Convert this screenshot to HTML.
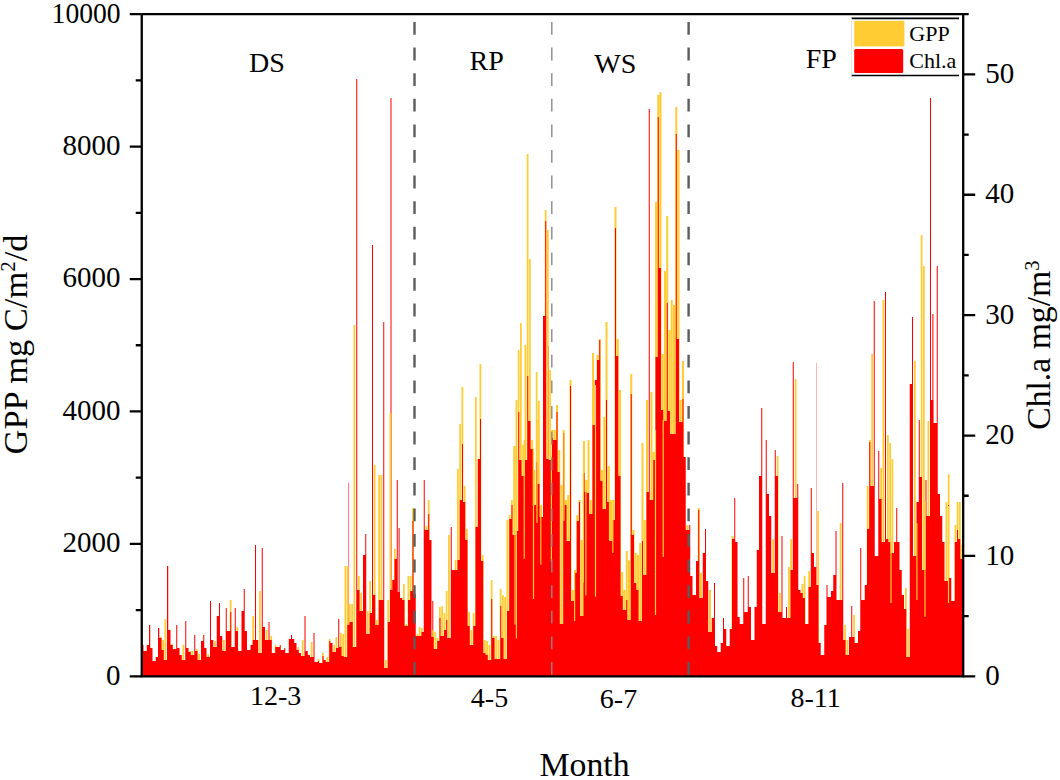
<!DOCTYPE html>
<html><head><meta charset="utf-8"><style>
html,body{margin:0;padding:0;background:#fff;width:1060px;height:780px;overflow:hidden}
svg{display:block}
text{font-family:"Liberation Serif",serif;fill:#000}
.t{font-size:28px}
.tk{font-size:29px}
.a{font-size:33px}
.l{font-size:22px}
</style></head><body>
<svg width="1060" height="780" viewBox="0 0 1060 780">
<rect x="816.0" y="362.8" width="1" height="313.5" fill="#ffb4b4"/>
<rect x="348.1" y="482.8" width="1" height="193.5" fill="#ff7878"/>
<rect x="932.4" y="314" width="1" height="362.3" fill="#ff0000"/>
<rect x="390.5" y="98" width="1" height="578.3" fill="#ff0000"/>
<rect x="381.0" y="503" width="1" height="173.3" fill="#ff0000"/>
<rect x="398.6" y="528" width="1" height="148.3" fill="#ff0000"/>
<rect x="547.8" y="346" width="1" height="330.3" fill="#ff0000"/>
<rect x="432.3" y="601" width="1" height="75.3" fill="#ff0000"/>
<path fill="#FFCC33" d="M160.00 637.0H161.75V676.3H160.00ZM161.75 650.0H162.25V676.3H161.75ZM162.25 640.0H164.00V676.3H162.25ZM164.00 660.0H164.50V676.3H164.00ZM164.50 619.0H166.25V676.3H164.50ZM171.25 644.0H173.00V676.3H171.25ZM182.50 645.0H184.25V676.3H182.50ZM189.25 651.0H191.00V676.3H189.25ZM191.00 655.0H191.50V676.3H191.00ZM191.50 651.0H193.25V676.3H191.50ZM196.00 649.0H197.75V676.3H196.00ZM197.75 660.0H198.25V676.3H197.75ZM198.25 654.0H200.00V676.3H198.25ZM207.25 654.0H209.00V676.3H207.25ZM214.00 641.0H215.75V676.3H214.00ZM223.00 640.0H224.75V676.3H223.00ZM229.75 600.0H231.50V676.3H229.75ZM236.50 627.0H238.25V676.3H236.50ZM252.25 616.0H254.00V676.3H252.25ZM259.00 591.0H260.75V676.3H259.00ZM265.75 630.0H267.50V676.3H265.75ZM270.25 636.0H272.00V676.3H270.25ZM274.75 645.0H276.50V676.3H274.75ZM297.25 647.0H299.00V676.3H297.25ZM301.75 640.0H303.50V676.3H301.75ZM310.75 642.0H312.50V676.3H310.75ZM317.50 659.0H319.25V676.3H317.50ZM322.00 653.0H323.75V676.3H322.00ZM326.50 657.0H328.25V676.3H326.50ZM328.25 662.0H328.75V676.3H328.25ZM328.75 639.0H330.50V676.3H328.75ZM333.25 645.0H335.00V676.3H333.25ZM335.00 652.0H335.50V676.3H335.00ZM335.50 637.0H337.25V676.3H335.50ZM340.00 633.0H341.75V676.3H340.00ZM341.75 656.0H342.25V676.3H341.75ZM342.25 634.0H344.00V676.3H342.25ZM344.00 657.0H344.50V676.3H344.00ZM344.50 566.0H346.25V676.3H344.50ZM346.25 657.0H346.75V676.3H346.25ZM346.75 566.0H348.50V676.3H346.75ZM348.50 625.0H349.00V676.3H348.50ZM349.00 604.0H350.75V676.3H349.00ZM350.75 622.0H351.25V676.3H350.75ZM351.25 604.0H353.00V676.3H351.25ZM353.00 647.0H353.50V676.3H353.00ZM353.50 325.0H355.25V676.3H353.50ZM358.00 576.0H359.75V676.3H358.00ZM359.75 611.0H360.25V676.3H359.75ZM360.25 593.0H362.00V676.3H360.25ZM367.00 611.0H368.75V676.3H367.00ZM368.75 634.0H369.25V676.3H368.75ZM369.25 581.0H371.00V676.3H369.25ZM373.75 465.0H375.50V676.3H373.75ZM375.50 625.0H376.00V676.3H375.50ZM376.00 620.0H377.75V676.3H376.00ZM377.75 625.0H378.25V676.3H377.75ZM378.25 475.0H380.00V676.3H378.25ZM380.00 600.0H380.50V676.3H380.00ZM380.50 475.0H382.25V676.3H380.50ZM385.00 660.0H386.75V676.3H385.00ZM386.75 668.0H387.25V676.3H386.75ZM387.25 600.0H389.00V676.3H387.25ZM389.00 622.0H389.50V676.3H389.00ZM389.50 413.0H391.25V676.3H389.50ZM394.00 549.0H395.75V676.3H394.00ZM403.00 584.0H404.75V676.3H403.00ZM404.75 626.0H405.25V676.3H404.75ZM405.25 624.0H407.00V676.3H405.25ZM407.00 626.0H407.50V676.3H407.00ZM407.50 576.0H409.25V676.3H407.50ZM409.25 600.0H409.75V676.3H409.25ZM409.75 576.0H411.50V676.3H409.75ZM411.50 591.0H412.00V676.3H411.50ZM412.00 508.0H413.75V676.3H412.00ZM416.50 634.0H418.25V676.3H416.50ZM418.25 636.0H418.75V676.3H418.25ZM418.75 627.0H420.50V676.3H418.75ZM420.50 636.0H421.00V676.3H420.50ZM421.00 628.0H422.75V676.3H421.00ZM425.50 526.0H427.25V676.3H425.50ZM427.25 530.0H427.75V676.3H427.25ZM427.75 500.0H429.50V676.3H427.75ZM432.25 630.0H434.00V676.3H432.25ZM434.00 649.0H434.50V676.3H434.00ZM434.50 632.0H436.25V676.3H434.50ZM436.25 649.0H436.75V676.3H436.25ZM436.75 638.0H438.50V676.3H436.75ZM438.50 641.0H439.00V676.3H438.50ZM439.00 607.0H440.75V676.3H439.00ZM440.75 636.0H441.25V676.3H440.75ZM441.25 606.0H443.00V676.3H441.25ZM443.00 636.0H443.50V676.3H443.00ZM443.50 613.0H445.25V676.3H443.50ZM445.25 630.0H445.75V676.3H445.25ZM445.75 591.0H447.50V676.3H445.75ZM447.50 638.0H448.00V676.3H447.50ZM448.00 535.0H449.75V676.3H448.00ZM454.75 560.0H456.50V676.3H454.75ZM456.50 570.0H457.00V676.3H456.50ZM457.00 469.0H458.75V676.3H457.00ZM458.75 560.0H459.25V676.3H458.75ZM459.25 424.0H461.00V676.3H459.25ZM461.00 500.0H461.50V676.3H461.00ZM461.50 387.0H463.25V676.3H461.50ZM463.25 502.0H463.75V676.3H463.25ZM463.75 486.0H465.50V676.3H463.75ZM465.50 540.0H466.00V676.3H465.50ZM466.00 529.0H467.75V676.3H466.00ZM467.75 626.0H468.25V676.3H467.75ZM468.25 612.0H470.00V676.3H468.25ZM470.00 645.0H470.50V676.3H470.00ZM470.50 630.0H472.25V676.3H470.50ZM472.25 645.0H472.75V676.3H472.25ZM472.75 613.0H474.50V676.3H472.75ZM474.50 626.0H475.00V676.3H474.50ZM475.00 397.0H476.75V676.3H475.00ZM479.50 364.0H481.25V676.3H479.50ZM481.25 561.0H481.75V676.3H481.25ZM481.75 555.0H483.50V676.3H481.75ZM483.50 653.0H484.00V676.3H483.50ZM484.00 640.0H485.75V676.3H484.00ZM485.75 655.0H486.25V676.3H485.75ZM486.25 641.0H488.00V676.3H486.25ZM488.00 660.0H488.50V676.3H488.00ZM488.50 645.0H490.25V676.3H488.50ZM490.25 660.0H490.75V676.3H490.25ZM490.75 580.0H492.50V676.3H490.75ZM492.50 638.0H493.00V676.3H492.50ZM493.00 636.0H494.75V676.3H493.00ZM494.75 659.0H495.25V676.3H494.75ZM495.25 636.0H497.00V676.3H495.25ZM497.00 659.0H497.50V676.3H497.00ZM497.50 640.0H499.25V676.3H497.50ZM499.25 659.0H499.75V676.3H499.25ZM499.75 589.0H501.50V676.3H499.75ZM501.50 638.0H502.00V676.3H501.50ZM502.00 595.0H503.75V676.3H502.00ZM503.75 659.0H504.25V676.3H503.75ZM504.25 597.0H506.00V676.3H504.25ZM506.00 659.0H506.50V676.3H506.00ZM506.50 520.0H508.25V676.3H506.50ZM508.25 611.0H508.75V676.3H508.25ZM508.75 515.0H510.50V676.3H508.75ZM510.50 519.0H511.00V676.3H510.50ZM511.00 500.0H512.75V676.3H511.00ZM512.75 535.0H513.25V676.3H512.75ZM513.25 446.0H515.00V676.3H513.25ZM515.00 535.0H515.50V676.3H515.00ZM515.50 400.0H517.25V676.3H515.50ZM517.25 531.0H517.75V676.3H517.25ZM517.75 350.0H519.50V676.3H517.75ZM519.50 460.0H520.00V676.3H519.50ZM520.00 323.0H521.75V676.3H520.00ZM521.75 476.0H522.25V676.3H521.75ZM522.25 445.0H524.00V676.3H522.25ZM524.00 476.0H524.50V676.3H524.00ZM524.50 345.0H526.25V676.3H524.50ZM526.25 460.0H526.75V676.3H526.25ZM526.75 154.0H528.50V676.3H526.75ZM528.50 421.0H529.00V676.3H528.50ZM529.00 259.0H530.75V676.3H529.00ZM530.75 449.0H531.25V676.3H530.75ZM531.25 440.0H533.00V676.3H531.25ZM533.00 505.0H533.50V676.3H533.00ZM533.50 470.0H535.25V676.3H533.50ZM535.25 505.0H535.75V676.3H535.25ZM535.75 372.0H537.50V676.3H535.75ZM537.50 484.0H538.00V676.3H537.50ZM538.00 401.0H539.75V676.3H538.00ZM539.75 517.0H540.25V676.3H539.75ZM540.25 505.0H542.00V676.3H540.25ZM544.75 210.0H546.50V676.3H544.75ZM546.50 459.0H547.00V676.3H546.50ZM547.00 230.0H548.75V676.3H547.00ZM548.75 460.0H549.25V676.3H548.75ZM549.25 370.0H551.00V676.3H549.25ZM551.00 460.0H551.50V676.3H551.00ZM551.50 430.0H553.50V676.3H551.50ZM553.50 440.0H553.75V676.3H553.50ZM553.75 430.0H555.75V676.3H553.75ZM555.75 440.0H556.00V676.3H555.75ZM556.00 405.0H558.00V676.3H556.00ZM558.00 472.0H558.25V676.3H558.00ZM558.25 450.0H560.25V676.3H558.25ZM560.25 624.0H560.50V676.3H560.25ZM560.50 485.0H562.50V676.3H560.50ZM562.50 624.0H562.75V676.3H562.50ZM562.75 430.0H564.75V676.3H562.75ZM564.75 505.0H565.00V676.3H564.75ZM565.00 500.0H567.00V676.3H565.00ZM567.00 541.0H567.25V676.3H567.00ZM567.25 495.0H569.25V676.3H567.25ZM569.25 541.0H569.50V676.3H569.25ZM569.50 380.0H571.50V676.3H569.50ZM571.50 601.0H571.75V676.3H571.50ZM571.75 590.0H573.75V676.3H571.75ZM573.75 601.0H574.00V676.3H573.75ZM574.00 570.0H576.00V676.3H574.00ZM576.00 573.0H576.25V676.3H576.00ZM576.25 515.0H578.25V676.3H576.25ZM578.25 521.0H578.50V676.3H578.25ZM578.50 500.0H580.50V676.3H578.50ZM580.50 616.0H580.75V676.3H580.50ZM580.75 540.0H582.75V676.3H580.75ZM582.75 616.0H583.00V676.3H582.75ZM583.00 441.0H585.00V676.3H583.00ZM585.00 492.0H585.25V676.3H585.00ZM585.25 480.0H587.25V676.3H585.25ZM587.25 493.0H587.50V676.3H587.25ZM587.50 440.0H589.50V676.3H587.50ZM589.50 514.0H589.75V676.3H589.50ZM589.75 500.0H591.75V676.3H589.75ZM591.75 514.0H592.00V676.3H591.75ZM592.00 353.0H594.00V676.3H592.00ZM596.50 355.0H598.50V676.3H596.50ZM598.50 360.0H598.75V676.3H598.50ZM598.75 339.0H600.75V676.3H598.75ZM600.75 481.0H601.00V676.3H600.75ZM601.00 470.0H603.00V676.3H601.00ZM603.00 509.0H603.25V676.3H603.00ZM603.25 417.0H605.25V676.3H603.25ZM605.25 509.0H605.50V676.3H605.25ZM605.50 322.0H607.50V676.3H605.50ZM607.50 502.0H607.75V676.3H607.50ZM607.75 466.0H609.75V676.3H607.75ZM609.75 541.0H610.00V676.3H609.75ZM610.00 500.0H612.00V676.3H610.00ZM612.00 541.0H612.25V676.3H612.00ZM612.25 500.0H614.25V676.3H612.25ZM614.25 520.0H614.50V676.3H614.25ZM614.50 207.0H616.50V676.3H614.50ZM616.50 356.0H616.75V676.3H616.50ZM616.75 339.0H618.75V676.3H616.75ZM618.75 476.0H619.00V676.3H618.75ZM619.00 390.0H621.00V676.3H619.00ZM621.00 596.0H621.25V676.3H621.00ZM621.25 572.0H623.25V676.3H621.25ZM623.25 610.0H623.50V676.3H623.25ZM623.50 590.0H625.50V676.3H623.50ZM625.50 610.0H625.75V676.3H625.50ZM625.75 551.0H627.75V676.3H625.75ZM627.75 620.0H628.00V676.3H627.75ZM628.00 561.0H630.00V676.3H628.00ZM630.00 620.0H630.25V676.3H630.00ZM630.25 374.0H632.25V676.3H630.25ZM632.25 535.0H632.50V676.3H632.25ZM632.50 530.0H634.50V676.3H632.50ZM634.50 583.0H634.75V676.3H634.50ZM634.75 553.0H636.75V676.3H634.75ZM636.75 590.0H637.00V676.3H636.75ZM637.00 555.0H639.00V676.3H637.00ZM639.00 621.0H639.25V676.3H639.00ZM639.25 543.0H641.25V676.3H639.25ZM641.25 621.0H641.50V676.3H641.25ZM641.50 443.0H643.50V676.3H641.50ZM643.50 575.0H643.75V676.3H643.50ZM643.75 520.0H645.75V676.3H643.75ZM645.75 575.0H646.00V676.3H645.75ZM646.00 400.0H648.00V676.3H646.00ZM650.50 392.0H652.50V676.3H650.50ZM652.50 500.0H652.75V676.3H652.50ZM652.75 452.0H654.75V676.3H652.75ZM654.75 460.0H655.00V676.3H654.75ZM655.00 202.0H657.00V676.3H655.00ZM657.00 357.0H657.25V676.3H657.00ZM657.25 95.0H659.25V676.3H657.25ZM659.25 268.0H659.50V676.3H659.25ZM659.50 92.0H661.50V676.3H659.50ZM661.50 410.0H661.75V676.3H661.50ZM661.75 354.0H663.75V676.3H661.75ZM663.75 421.0H664.00V676.3H663.75ZM664.00 271.0H666.00V676.3H664.00ZM666.00 421.0H666.25V676.3H666.00ZM666.25 216.0H668.25V676.3H666.25ZM668.25 411.0H668.50V676.3H668.25ZM668.50 330.0H670.50V676.3H668.50ZM670.50 434.0H670.75V676.3H670.50ZM670.75 300.0H672.75V676.3H670.75ZM672.75 434.0H673.00V676.3H672.75ZM673.00 305.0H675.00V676.3H673.00ZM675.00 434.0H675.25V676.3H675.00ZM675.25 107.0H677.25V676.3H675.25ZM677.25 339.0H677.50V676.3H677.25ZM677.50 150.0H679.50V676.3H677.50ZM679.50 422.0H679.75V676.3H679.50ZM679.75 400.0H681.75V676.3H679.75ZM681.75 422.0H682.00V676.3H681.75ZM682.00 361.0H684.00V676.3H682.00ZM686.50 525.0H688.50V676.3H686.50ZM697.75 508.0H699.75V676.3H697.75ZM699.75 598.0H700.00V676.3H699.75ZM700.00 573.0H702.00V676.3H700.00ZM709.00 590.0H711.00V676.3H709.00ZM731.50 536.0H733.50V676.3H731.50ZM772.25 539.0H774.00V676.3H772.25ZM776.75 456.0H778.50V676.3H776.75ZM778.50 612.0H779.00V676.3H778.50ZM779.00 593.0H780.75V676.3H779.00ZM788.00 567.0H789.75V676.3H788.00ZM789.75 618.0H790.25V676.3H789.75ZM790.25 539.0H792.00V676.3H790.25ZM794.75 379.0H796.50V676.3H794.75ZM801.50 584.0H803.25V676.3H801.50ZM803.25 598.0H803.75V676.3H803.25ZM803.75 576.0H805.50V676.3H803.75ZM808.25 571.0H810.00V676.3H808.25ZM817.25 511.0H819.00V676.3H817.25ZM839.75 523.0H841.50V676.3H839.75ZM844.25 625.0H846.00V676.3H844.25ZM846.00 655.0H846.50V676.3H846.00ZM846.50 640.0H848.25V676.3H846.50ZM853.25 615.0H855.00V676.3H853.25ZM866.75 486.0H868.50V676.3H866.75ZM868.50 529.0H869.00V676.3H868.50ZM869.00 440.0H870.75V676.3H869.00ZM870.75 486.0H871.25V676.3H870.75ZM871.25 354.0H873.00V676.3H871.25ZM880.25 468.0H882.00V676.3H880.25ZM882.00 542.0H882.50V676.3H882.00ZM882.50 300.0H884.25V676.3H882.50ZM887.00 435.0H888.75V676.3H887.00ZM888.75 542.0H889.25V676.3H888.75ZM889.25 443.0H891.00V676.3H889.25ZM891.00 553.0H891.50V676.3H891.00ZM891.50 459.0H893.25V676.3H891.50ZM905.00 588.0H906.75V676.3H905.00ZM906.75 657.0H907.25V676.3H906.75ZM907.25 629.0H909.00V676.3H907.25ZM914.00 361.0H915.75V676.3H914.00ZM920.75 235.0H922.50V676.3H920.75ZM922.50 570.0H923.00V676.3H922.50ZM923.00 266.0H924.75V676.3H923.00ZM927.50 421.0H929.25V676.3H927.50ZM945.50 502.0H947.25V676.3H945.50ZM947.25 581.0H947.75V676.3H947.25ZM947.75 474.0H949.50V676.3H947.75ZM954.50 525.0H956.25V676.3H954.50ZM956.25 542.0H956.75V676.3H956.25ZM956.75 502.0H958.50V676.3H956.75ZM958.50 539.0H959.00V676.3H958.50ZM959.00 502.0H960.75V676.3H959.00ZM960.75 559.0H961.25V676.3H960.75ZM961.25 545.0H963.00V676.3H961.25ZM963.00 559.0H963.25V676.3H963.00Z"/>
<path fill="#FF0000" d="M141.75 645.0H143.50V676.3H141.75ZM143.50 651.0H146.75V676.3H143.50ZM146.75 645.0H149.00V676.3H146.75ZM149.00 625.0H150.25V676.3H149.00ZM150.25 648.0H152.50V676.3H150.25ZM152.50 661.0H155.75V676.3H152.50ZM155.75 657.0H158.00V676.3H155.75ZM158.00 628.0H159.25V676.3H158.00ZM159.25 638.0H161.50V676.3H159.25ZM161.50 650.0H163.75V676.3H161.50ZM163.75 660.0H167.00V676.3H163.75ZM167.00 566.0H168.25V676.3H167.00ZM168.25 630.0H170.50V676.3H168.25ZM170.50 645.0H172.75V676.3H170.50ZM172.75 649.0H176.25V676.3H172.75ZM176.25 625.0H177.25V676.3H176.25ZM177.25 648.0H179.50V676.3H177.25ZM179.50 655.0H181.75V676.3H179.50ZM181.75 660.0H185.25V676.3H181.75ZM185.25 621.0H186.25V676.3H185.25ZM186.25 648.0H188.50V676.3H186.25ZM188.50 652.0H190.75V676.3H188.50ZM190.75 655.0H194.25V676.3H190.75ZM194.25 635.0H195.25V676.3H194.25ZM195.25 651.0H197.50V676.3H195.25ZM197.50 660.0H201.00V676.3H197.50ZM201.00 641.0H203.25V676.3H201.00ZM203.25 635.0H204.25V676.3H203.25ZM204.25 648.0H206.50V676.3H204.25ZM206.50 657.0H210.00V676.3H206.50ZM210.00 601.0H211.00V676.3H210.00ZM211.00 640.0H213.25V676.3H211.00ZM213.25 647.0H216.75V676.3H213.25ZM216.75 616.0H219.00V676.3H216.75ZM219.00 603.0H220.00V676.3H219.00ZM220.00 636.0H222.25V676.3H220.00ZM222.25 651.0H225.75V676.3H222.25ZM225.75 608.0H226.75V676.3H225.75ZM226.75 631.0H230.25V676.3H226.75ZM230.25 612.0H231.25V676.3H230.25ZM231.25 647.0H234.75V676.3H231.25ZM234.75 608.0H235.75V676.3H234.75ZM235.75 631.0H238.00V676.3H235.75ZM238.00 651.0H241.50V676.3H238.00ZM241.50 611.0H243.75V676.3H241.50ZM243.75 589.0H244.75V676.3H243.75ZM244.75 631.0H247.00V676.3H244.75ZM247.00 650.0H250.50V676.3H247.00ZM250.50 645.0H252.75V676.3H250.50ZM252.75 640.0H255.00V676.3H252.75ZM255.00 545.0H256.00V676.3H255.00ZM256.00 640.0H258.25V676.3H256.00ZM258.25 653.0H261.75V676.3H258.25ZM261.75 548.0H262.75V676.3H261.75ZM262.75 627.0H265.00V676.3H262.75ZM265.00 640.0H268.50V676.3H265.00ZM268.50 622.0H269.50V676.3H268.50ZM269.50 640.0H271.75V676.3H269.50ZM271.75 653.0H275.25V676.3H271.75ZM275.25 647.0H279.75V676.3H275.25ZM279.75 645.0H280.75V676.3H279.75ZM280.75 650.0H284.25V676.3H280.75ZM284.25 648.0H285.25V676.3H284.25ZM285.25 653.0H288.75V676.3H285.25ZM288.75 639.0H291.00V676.3H288.75ZM291.00 635.0H292.00V676.3H291.00ZM292.00 639.0H294.25V676.3H292.00ZM294.25 643.0H296.50V676.3H294.25ZM296.50 650.0H298.75V676.3H296.50ZM298.75 653.0H301.00V676.3H298.75ZM301.00 656.0H304.50V676.3H301.00ZM304.50 616.0H305.50V676.3H304.50ZM305.50 651.0H307.75V676.3H305.50ZM307.75 655.0H310.00V676.3H307.75ZM310.00 657.0H313.50V676.3H310.00ZM313.50 633.0H314.50V676.3H313.50ZM314.50 662.0H318.00V676.3H314.50ZM318.00 661.0H319.00V676.3H318.00ZM319.00 663.0H322.50V676.3H319.00ZM322.50 656.0H323.50V676.3H322.50ZM323.50 660.0H325.75V676.3H323.50ZM325.75 662.0H329.25V676.3H325.75ZM329.25 641.0H330.25V676.3H329.25ZM330.25 643.0H332.50V676.3H330.25ZM332.50 652.0H336.00V676.3H332.50ZM336.00 648.0H338.25V676.3H336.00ZM338.25 619.0H339.25V676.3H338.25ZM339.25 647.0H341.50V676.3H339.25ZM341.50 656.0H343.75V676.3H341.50ZM343.75 657.0H347.25V676.3H343.75ZM347.25 625.0H349.50V676.3H347.25ZM349.50 622.0H352.75V676.3H349.50ZM352.75 647.0H356.25V676.3H352.75ZM356.25 79.0H357.25V676.3H356.25ZM357.25 590.0H359.50V676.3H357.25ZM359.50 611.0H363.00V676.3H359.50ZM363.00 555.0H365.25V676.3H363.00ZM365.25 534.0H366.25V676.3H365.25ZM366.25 634.0H369.75V676.3H366.25ZM369.75 613.0H372.00V676.3H369.75ZM372.00 245.0H373.00V676.3H372.00ZM373.00 595.0H375.25V676.3H373.00ZM375.25 625.0H378.75V676.3H375.25ZM378.75 600.0H383.25V676.3H378.75ZM383.25 322.0H384.25V676.3H383.25ZM384.25 668.0H387.75V676.3H384.25ZM387.75 622.0H390.00V676.3H387.75ZM390.00 590.0H392.25V676.3H390.00ZM392.25 580.0H394.50V676.3H392.25ZM394.50 559.0H396.75V676.3H394.50ZM396.75 480.0H397.75V676.3H396.75ZM397.75 592.0H400.00V676.3H397.75ZM400.00 598.0H402.25V676.3H400.00ZM402.25 600.0H404.50V676.3H402.25ZM404.50 626.0H408.00V676.3H404.50ZM408.00 600.0H410.25V676.3H408.00ZM410.25 591.0H412.50V676.3H410.25ZM412.50 521.0H413.50V676.3H412.50ZM413.50 594.0H415.75V676.3H413.50ZM415.75 636.0H421.50V676.3H415.75ZM421.50 632.0H423.75V676.3H421.50ZM423.75 480.0H424.75V676.3H423.75ZM424.75 530.0H428.25V676.3H424.75ZM428.25 514.0H429.25V676.3H428.25ZM429.25 540.0H431.50V676.3H429.25ZM431.50 637.0H433.75V676.3H431.50ZM433.75 649.0H437.25V676.3H433.75ZM437.25 641.0H439.50V676.3H437.25ZM439.50 618.0H440.50V676.3H439.50ZM440.50 636.0H444.00V676.3H440.50ZM444.00 630.0H446.25V676.3H444.00ZM446.25 620.0H447.25V676.3H446.25ZM447.25 638.0H450.75V676.3H447.25ZM450.75 527.0H451.75V676.3H450.75ZM451.75 570.0H457.50V676.3H451.75ZM457.50 560.0H459.75V676.3H457.50ZM459.75 500.0H462.00V676.3H459.75ZM462.00 444.0H463.00V676.3H462.00ZM463.00 502.0H465.25V676.3H463.00ZM465.25 540.0H467.50V676.3H465.25ZM467.50 626.0H469.75V676.3H467.50ZM469.75 645.0H473.25V676.3H469.75ZM473.25 626.0H475.50V676.3H473.25ZM475.50 527.0H477.75V676.3H475.50ZM477.75 459.0H480.00V676.3H477.75ZM480.00 419.0H481.00V676.3H480.00ZM481.00 561.0H483.25V676.3H481.00ZM483.25 653.0H485.50V676.3H483.25ZM485.50 655.0H487.75V676.3H485.50ZM487.75 660.0H491.25V676.3H487.75ZM491.25 599.0H492.25V676.3H491.25ZM492.25 638.0H494.50V676.3H492.25ZM494.50 659.0H500.25V676.3H494.50ZM500.25 606.0H501.25V676.3H500.25ZM501.25 638.0H503.50V676.3H501.25ZM503.50 659.0H507.00V676.3H503.50ZM507.00 611.0H509.25V676.3H507.00ZM509.25 519.0H511.50V676.3H509.25ZM511.50 505.0H512.50V676.3H511.50ZM512.50 535.0H516.00V676.3H512.50ZM516.00 531.0H518.25V676.3H516.00ZM518.25 412.0H519.25V676.3H518.25ZM519.25 460.0H521.50V676.3H519.25ZM521.50 476.0H525.00V676.3H521.50ZM525.00 460.0H527.25V676.3H525.00ZM527.25 376.0H528.25V676.3H527.25ZM528.25 421.0H530.50V676.3H528.25ZM530.50 449.0H532.75V676.3H530.50ZM532.75 505.0H536.25V676.3H532.75ZM536.25 462.0H537.25V676.3H536.25ZM537.25 484.0H539.50V676.3H537.25ZM539.50 517.0H543.00V676.3H539.50ZM543.00 316.0H545.25V676.3H543.00ZM545.25 221.0H546.25V676.3H545.25ZM546.25 459.0H548.50V676.3H546.25ZM548.50 460.0H552.00V676.3H548.50ZM552.00 438.0H553.00V676.3H552.00ZM553.00 440.0H556.50V676.3H553.00ZM556.50 412.0H557.50V676.3H556.50ZM557.50 472.0H559.75V676.3H557.50ZM559.75 624.0H563.25V676.3H559.75ZM563.25 433.0H564.25V676.3H563.25ZM564.25 505.0H566.50V676.3H564.25ZM566.50 541.0H570.00V676.3H566.50ZM570.00 386.0H571.00V676.3H570.00ZM571.00 601.0H574.50V676.3H571.00ZM574.50 573.0H576.75V676.3H574.50ZM576.75 521.0H579.00V676.3H576.75ZM579.00 502.0H580.00V676.3H579.00ZM580.00 616.0H583.50V676.3H580.00ZM583.50 473.0H584.50V676.3H583.50ZM584.50 492.0H586.75V676.3H584.50ZM586.75 493.0H589.00V676.3H586.75ZM589.00 514.0H592.50V676.3H589.00ZM592.50 425.0H594.75V676.3H592.50ZM594.75 380.0H597.00V676.3H594.75ZM597.00 360.0H599.25V676.3H597.00ZM599.25 340.0H600.25V676.3H599.25ZM600.25 481.0H602.50V676.3H600.25ZM602.50 509.0H606.00V676.3H602.50ZM606.00 400.0H607.00V676.3H606.00ZM607.00 502.0H609.25V676.3H607.00ZM609.25 541.0H612.75V676.3H609.25ZM612.75 520.0H615.00V676.3H612.75ZM615.00 228.0H616.00V676.3H615.00ZM616.00 356.0H618.25V676.3H616.00ZM618.25 476.0H620.50V676.3H618.25ZM620.50 596.0H622.75V676.3H620.50ZM622.75 610.0H626.25V676.3H622.75ZM626.25 600.0H627.25V676.3H626.25ZM627.25 620.0H630.75V676.3H627.25ZM630.75 394.0H631.75V676.3H630.75ZM631.75 535.0H634.00V676.3H631.75ZM634.00 583.0H636.25V676.3H634.00ZM636.25 590.0H638.50V676.3H636.25ZM638.50 621.0H642.00V676.3H638.50ZM642.00 541.0H643.00V676.3H642.00ZM643.00 575.0H646.50V676.3H643.00ZM646.50 492.0H648.75V676.3H646.50ZM648.75 109.0H649.75V676.3H648.75ZM649.75 500.0H653.25V676.3H649.75ZM653.25 460.0H655.50V676.3H653.25ZM655.50 357.0H657.75V676.3H655.50ZM657.75 117.0H658.75V676.3H657.75ZM658.75 268.0H661.00V676.3H658.75ZM661.00 410.0H663.25V676.3H661.00ZM663.25 421.0H666.75V676.3H663.25ZM666.75 303.0H667.75V676.3H666.75ZM667.75 411.0H670.00V676.3H667.75ZM670.00 434.0H675.75V676.3H670.00ZM675.75 134.0H676.75V676.3H675.75ZM676.75 339.0H679.00V676.3H676.75ZM679.00 422.0H682.50V676.3H679.00ZM682.50 399.0H683.50V676.3H682.50ZM683.50 457.0H685.75V676.3H683.50ZM685.75 530.0H689.25V676.3H685.75ZM689.25 525.0H690.25V676.3H689.25ZM690.25 576.0H692.50V676.3H690.25ZM692.50 595.0H696.00V676.3H692.50ZM696.00 561.0H698.25V676.3H696.00ZM698.25 510.0H699.25V676.3H698.25ZM699.25 598.0H702.75V676.3H699.25ZM702.75 553.0H705.00V676.3H702.75ZM705.00 529.0H706.00V676.3H705.00ZM706.00 581.0H708.25V676.3H706.00ZM708.25 632.0H711.75V676.3H708.25ZM711.75 618.0H714.00V676.3H711.75ZM714.00 583.0H715.00V676.3H714.00ZM715.00 646.0H717.25V676.3H715.00ZM717.25 652.0H720.75V676.3H717.25ZM720.75 643.0H723.00V676.3H720.75ZM723.00 618.0H724.00V676.3H723.00ZM724.00 629.0H726.25V676.3H724.00ZM726.25 646.0H729.75V676.3H726.25ZM729.75 629.0H732.00V676.3H729.75ZM732.00 539.0H734.25V676.3H732.00ZM734.25 498.0H735.25V676.3H734.25ZM735.25 542.0H737.50V676.3H735.25ZM737.50 617.0H739.75V676.3H737.50ZM739.75 624.0H743.25V676.3H739.75ZM743.25 578.0H744.25V676.3H743.25ZM744.25 612.0H747.75V676.3H744.25ZM747.75 576.0H748.75V676.3H747.75ZM748.75 607.0H751.00V676.3H748.75ZM751.00 640.0H754.50V676.3H751.00ZM754.50 607.0H756.75V676.3H754.50ZM756.75 550.0H759.00V676.3H756.75ZM759.00 476.0H761.25V676.3H759.00ZM761.25 408.0H762.25V676.3H761.25ZM762.25 624.0H765.75V676.3H762.25ZM765.75 440.0H766.75V676.3H765.75ZM766.75 494.0H769.00V676.3H766.75ZM769.00 516.0H771.25V676.3H769.00ZM771.25 573.0H774.75V676.3H771.25ZM774.75 450.0H775.75V676.3H774.75ZM775.75 476.0H778.00V676.3H775.75ZM778.00 612.0H781.50V676.3H778.00ZM781.50 536.0H782.50V676.3H781.50ZM782.50 618.0H786.00V676.3H782.50ZM786.00 607.0H787.00V676.3H786.00ZM787.00 618.0H790.50V676.3H787.00ZM790.50 570.0H792.75V676.3H790.50ZM792.75 362.0H793.75V676.3H792.75ZM793.75 498.0H797.25V676.3H793.75ZM797.25 484.0H798.25V676.3H797.25ZM798.25 590.0H800.50V676.3H798.25ZM800.50 593.0H802.75V676.3H800.50ZM802.75 598.0H805.00V676.3H802.75ZM805.00 624.0H808.50V676.3H805.00ZM808.50 587.0H810.75V676.3H808.50ZM810.75 488.0H811.75V676.3H810.75ZM811.75 553.0H814.00V676.3H811.75ZM814.00 567.0H816.25V676.3H814.00ZM816.25 585.0H818.50V676.3H816.25ZM818.50 643.0H820.75V676.3H818.50ZM820.75 655.0H824.25V676.3H820.75ZM824.25 625.0H826.50V676.3H824.25ZM826.50 585.0H827.50V676.3H826.50ZM827.50 597.0H831.00V676.3H827.50ZM831.00 591.0H833.25V676.3H831.00ZM833.25 575.0H835.50V676.3H833.25ZM835.50 531.0H836.50V676.3H835.50ZM836.50 600.0H842.25V676.3H836.50ZM842.25 483.0H843.25V676.3H842.25ZM843.25 640.0H845.50V676.3H843.25ZM845.50 655.0H849.00V676.3H845.50ZM849.00 637.0H851.25V676.3H849.00ZM851.25 606.0H852.25V676.3H851.25ZM852.25 637.0H854.50V676.3H852.25ZM854.50 643.0H858.00V676.3H854.50ZM858.00 631.0H860.25V676.3H858.00ZM860.25 548.0H861.25V676.3H860.25ZM861.25 600.0H864.75V676.3H861.25ZM864.75 585.0H867.00V676.3H864.75ZM867.00 529.0H869.25V676.3H867.00ZM869.25 442.0H870.25V676.3H869.25ZM870.25 486.0H873.75V676.3H870.25ZM873.75 301.0H874.75V676.3H873.75ZM874.75 556.0H878.25V676.3H874.75ZM878.25 451.0H879.25V676.3H878.25ZM879.25 499.0H881.50V676.3H879.25ZM881.50 542.0H885.00V676.3H881.50ZM885.00 292.0H886.00V676.3H885.00ZM886.00 539.0H888.25V676.3H886.00ZM888.25 542.0H890.50V676.3H888.25ZM890.50 553.0H894.00V676.3H890.50ZM894.00 542.0H896.25V676.3H894.00ZM896.25 508.0H897.25V676.3H896.25ZM897.25 542.0H899.50V676.3H897.25ZM899.50 570.0H901.75V676.3H899.50ZM901.75 595.0H904.00V676.3H901.75ZM904.00 609.0H906.25V676.3H904.00ZM906.25 657.0H909.75V676.3H906.25ZM909.75 384.0H912.00V676.3H909.75ZM912.00 317.0H913.00V676.3H912.00ZM913.00 556.0H916.50V676.3H913.00ZM916.50 502.0H918.75V676.3H916.50ZM918.75 420.0H919.75V676.3H918.75ZM919.75 477.0H922.00V676.3H919.75ZM922.00 570.0H925.50V676.3H922.00ZM925.50 480.0H926.50V676.3H925.50ZM926.50 516.0H930.00V676.3H926.50ZM930.00 98.0H931.00V676.3H930.00ZM931.00 400.0H933.25V676.3H931.00ZM933.25 423.0H936.75V676.3H933.25ZM936.75 266.0H937.75V676.3H936.75ZM937.75 494.0H940.00V676.3H937.75ZM940.00 516.0H942.25V676.3H940.00ZM942.25 542.0H944.50V676.3H942.25ZM944.50 581.0H948.00V676.3H944.50ZM948.00 505.0H949.00V676.3H948.00ZM949.00 578.0H951.25V676.3H949.00ZM951.25 601.0H954.75V676.3H951.25ZM954.75 542.0H957.00V676.3H954.75ZM957.00 530.0H958.00V676.3H957.00ZM958.00 539.0H960.25V676.3H958.00ZM960.25 559.0H963.25V676.3H960.25Z"/>
<rect x="514.40" y="446" width="1.2" height="178.6" fill="#FFCC33"/>
<rect x="515.80" y="446" width="1.2" height="192.5" fill="#FFCC33"/>
<rect x="523.60" y="440" width="1.2" height="118.8" fill="#FFCC33"/>
<rect x="532.90" y="449" width="1.2" height="150.0" fill="#FFCC33"/>
<rect x="540.20" y="505" width="1.2" height="59.6" fill="#FFCC33"/>
<rect x="536.40" y="420" width="1.2" height="103.0" fill="#FFCC33"/>
<rect x="550.80" y="458" width="1.2" height="104.0" fill="#FFCC33"/>
<rect x="574.00" y="573" width="1.2" height="48.0" fill="#FFCC33"/>
<rect x="582.70" y="473" width="1.2" height="109.6" fill="#FFCC33"/>
<rect x="585.30" y="492" width="1.2" height="103.4" fill="#FFCC33"/>
<rect x="594.90" y="385" width="1.2" height="211.7" fill="#FFCC33"/>
<rect x="608.90" y="502" width="1.2" height="38.0" fill="#FFCC33"/>
<rect x="612.20" y="520" width="1.2" height="33.0" fill="#FFCC33"/>
<rect x="563.40" y="433" width="1.2" height="88.0" fill="#FFCC33"/>
<rect x="654.90" y="430" width="1.2" height="185.0" fill="#FFCC33"/>
<rect x="662.60" y="420" width="1.2" height="137.0" fill="#FFCC33"/>
<rect x="628.20" y="560" width="1.2" height="55.0" fill="#FFCC33"/>
<rect x="924.40" y="501" width="1.2" height="116.0" fill="#FFCC33"/>
<rect x="947.90" y="506" width="1.2" height="97.0" fill="#FFCC33"/>
<rect x="890.40" y="541" width="1.2" height="62.0" fill="#FFCC33"/>
<rect x="916.30" y="523" width="1.2" height="77.0" fill="#FFCC33"/>
<line x1="414.5" y1="22" x2="414.5" y2="676.3" stroke="#5c5c5c" stroke-width="2.4" stroke-dasharray="12.8 12.8"/>
<line x1="551.8" y1="22" x2="551.8" y2="676.3" stroke="#8a8a8a" stroke-width="1.4" stroke-dasharray="12.8 12.8"/>
<line x1="688.6" y1="22" x2="688.6" y2="676.3" stroke="#5c5c5c" stroke-width="2.4" stroke-dasharray="12.8 12.8"/>
<path d="M141.75 14.2V676.3H963.2V14.2H141.75" fill="none" stroke="#000" stroke-width="2.3"/>
<path d="M129.75 676.30H141.75M135.75 610.09H141.75M129.75 543.88H141.75M135.75 477.67H141.75M129.75 411.46H141.75M135.75 345.25H141.75M129.75 279.04H141.75M135.75 212.83H141.75M129.75 146.62H141.75M135.75 80.41H141.75M129.75 14.20H141.75M963.2 676.30H975.2M963.2 616.11H968.7M963.2 555.92H975.2M963.2 495.73H968.7M963.2 435.54H975.2M963.2 375.35H968.7M963.2 315.15H975.2M963.2 254.96H968.7M963.2 194.77H975.2M963.2 134.58H968.7M963.2 74.39H975.2M963.2 14.20H968.7" stroke="#000" stroke-width="2.3" fill="none"/>
<text x="120.6" y="684.7" text-anchor="end" class="tk">0</text>
<text x="120.6" y="552.3" text-anchor="end" class="tk">2000</text>
<text x="120.6" y="419.9" text-anchor="end" class="tk">4000</text>
<text x="120.6" y="287.4" text-anchor="end" class="tk">6000</text>
<text x="120.6" y="155.0" text-anchor="end" class="tk">8000</text>
<text x="120.6" y="22.6" text-anchor="end" class="tk" textLength="69" lengthAdjust="spacingAndGlyphs">10000</text>
<text x="985.2" y="684.9" class="tk">0</text>
<text x="985.2" y="564.5" class="tk">10</text>
<text x="985.2" y="444.1" class="tk">20</text>
<text x="985.2" y="323.8" class="tk">30</text>
<text x="985.2" y="203.4" class="tk">40</text>
<text x="985.2" y="83.0" class="tk">50</text>
<text x="275.6" y="704.6" text-anchor="middle" class="t">12-3</text>
<text x="489.5" y="707.2" text-anchor="middle" class="t">4-5</text>
<text x="618.5" y="708.2" text-anchor="middle" class="t">6-7</text>
<text x="815.6" y="706.6" text-anchor="middle" class="t">8-11</text>
<text x="249" y="72.2" class="t">DS</text>
<text x="469.6" y="69.8" class="t">RP</text>
<text x="594.3" y="72.8" class="t">WS</text>
<text x="805.8" y="68.1" class="t">FP</text>
<text x="584.6" y="776" text-anchor="middle" class="a" style="font-size:33.8px">Month</text>
<text transform="translate(27,454.5) rotate(-90)" class="a" style="font-size:34.5px">GPP mg C/m<tspan font-size="21" dy="-12">2</tspan><tspan dy="12">/d</tspan></text>
<text transform="translate(1050,429.8) rotate(-90)" class="a" style="font-size:33.7px">Chl.a mg/m<tspan font-size="20.5" dy="-11.5">3</tspan></text>
<rect x="851.5" y="18.5" width="107.5" height="57" fill="#fff" stroke="none"/>
<path d="M851.5 18.4H959M851.5 75.5H959" stroke="#000" stroke-width="1.6"/>
<path d="M851.5 18.4V75.5" stroke="#e6e6e6" stroke-width="1"/>
<rect x="854.2" y="20.8" width="50.2" height="25.6" fill="#FFCC33"/>
<rect x="854.2" y="49" width="49" height="24" rx="1.5" fill="#FF0000"/>
<text x="909.3" y="41.2" class="l">GPP</text>
<text x="909.3" y="68.2" class="l">Chl.a</text>
</svg></body></html>
